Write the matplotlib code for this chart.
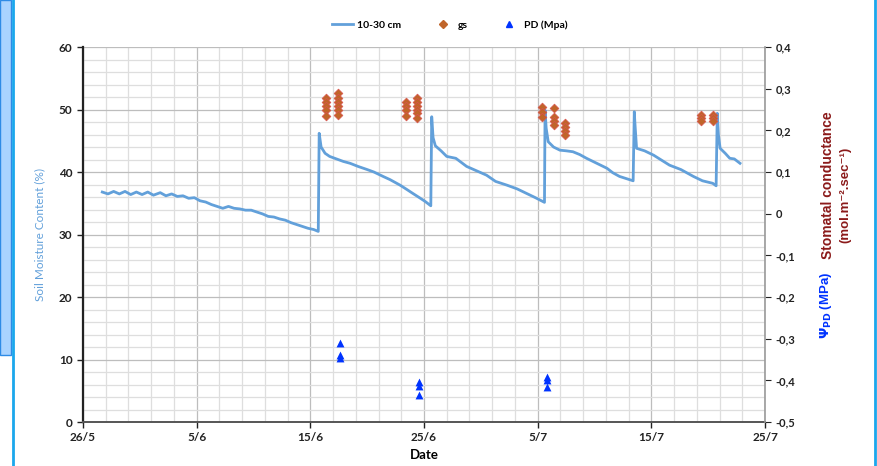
import matplotlib
matplotlib.use("Agg")
import matplotlib.pyplot as plt
import matplotlib.patches as mpatches
from matplotlib.lines import Line2D
from matplotlib.ticker import MultipleLocator, FuncFormatter

plt.rcParams["font.family"] = ["Lato", "DejaVu Sans"]

# ── Colours ───────────────────────────────────────────────
LINE_BLUE = "#62A0DA"
GS_BROWN = "#C0652A"
PD_BLUE = "#0033FF"
DARK_RED = "#8B1A1A"

# ── Data (days since 26/5) ────────────────────────────────
moist_days = [
    1.7, 2.2, 2.7, 3.2, 3.7, 4.2, 4.7, 5.2, 5.7, 6.2, 6.8, 7.3, 7.8, 8.3, 8.8,
    9.3, 9.8, 10.3, 10.8, 11.3, 11.8, 12.3, 12.8, 13.3, 13.8, 14.3, 14.8, 15.3,
    15.8, 16.3, 16.8, 17.3, 17.8, 18.3, 18.8, 19.3, 19.8, 20.3, 20.7,
    20.78, 20.95, 21.3, 21.7, 22.3, 22.9, 23.5, 24.2, 25.0, 25.6, 26.4, 27.0,
    27.9, 28.5, 29.0, 29.6, 30.1, 30.6,
    30.68, 30.8, 31.0, 31.5, 32.0, 32.8, 33.75, 34.5, 35.5, 36.3, 37.3, 38.2,
    39.0, 39.8, 40.6,
    40.65, 40.75, 40.93, 41.4, 41.96, 42.5, 43.1, 43.7, 44.3, 45.2, 46.1, 46.6,
    47.2, 48.4,
    48.5, 48.55, 48.7, 49.4, 50.2, 50.9, 51.6, 52.6, 53.7, 54.5, 55.4, 55.7,
    55.8, 55.9, 56.05, 56.5, 56.9, 57.3, 57.8,
]
moist_vals = [
    36.8, 36.5, 36.9, 36.5, 36.9, 36.4, 36.8, 36.4, 36.8, 36.3, 36.7, 36.2, 36.5,
    36.1, 36.2, 35.8, 35.9, 35.4, 35.2, 34.8, 34.5, 34.2, 34.5, 34.2, 34.1, 33.9,
    33.9, 33.6, 33.3, 32.9, 32.8, 32.5, 32.3, 31.9, 31.6, 31.3, 31.0, 30.8, 30.5,
    46.2, 44.0, 43.0, 42.5, 42.1, 41.7, 41.4, 40.9, 40.4, 40.0, 39.3, 38.8,
    37.9, 37.2, 36.6, 35.9, 35.3, 34.6,
    48.85, 45.5, 44.2, 43.4, 42.5, 42.2, 40.9, 40.3, 39.5, 38.5, 37.9, 37.3,
    36.6, 35.9, 35.15,
    49.9, 47.0, 44.85, 44.0, 43.5, 43.4, 43.25, 42.8, 42.2, 41.4, 40.6, 39.9,
    39.3, 38.6,
    49.65, 48.0, 43.8, 43.4, 42.7, 41.9, 41.1, 40.4, 39.3, 38.6, 38.2, 37.8,
    49.4, 46.0, 43.8, 43.0, 42.2, 42.1, 41.4,
]

gs_days = [21.4] * 5 + [22.4] * 6 + [28.4] * 4 + [29.36] * 6 + \
          [40.4] * 3 + [41.4] * 4 + [42.4] * 4 + [54.4] * 3 + [55.4] * 3
gs_vals = [
    0.277, 0.267, 0.258, 0.250, 0.235,
    0.289, 0.278, 0.269, 0.259, 0.250, 0.237,
    0.269, 0.259, 0.250, 0.235,
    0.278, 0.269, 0.259, 0.250, 0.241, 0.229,
    0.255, 0.245, 0.233,
    0.253, 0.233, 0.222, 0.213,
    0.217, 0.207, 0.198, 0.189,
    0.236, 0.229, 0.222,
    0.236, 0.229, 0.222,
]

pd_days = [22.6, 22.6, 22.6, 29.6, 29.6, 29.6, 40.8, 40.8, 40.8]
pd_vals = [-0.311, -0.339, -0.347, -0.403, -0.414, -0.435, -0.391, -0.400, -0.416]

xtick_days = [0, 10, 20, 30, 40, 50, 60]
xtick_labels = ["26/5", "5/6", "15/6", "25/6", "5/7", "15/7", "25/7"]

# ── Figure ────────────────────────────────────────────────
fig = plt.figure(figsize=(8.77, 4.66), dpi=100, facecolor="white")
ax = fig.add_axes([0.0946, 0.0944, 0.7777, 0.8046])

# frame decoration from the source screenshot
fig.patches.append(mpatches.Rectangle((0, 1 - 355 / 466), 11 / 877, 355 / 466,
                                      transform=fig.transFigure, facecolor="#A9D3FF",
                                      edgecolor="#2E8BE6", linewidth=1))
fig.add_artist(Line2D([13 / 877, 13 / 877], [0, 1], transform=fig.transFigure,
                      color="#1AA7EC", linewidth=2))
fig.add_artist(Line2D([875 / 877, 875 / 877], [0, 1], transform=fig.transFigure,
                      color="#1AA7EC", linewidth=2))

ax.plot(moist_days, moist_vals, color=LINE_BLUE, linewidth=2, zorder=3,
        label="10-30 cm")

ax.set_xlim(0, 60)
ax.set_ylim(0, 60)
ax.set_xticks(xtick_days)
ax.set_xticklabels(xtick_labels)
ax.xaxis.set_minor_locator(MultipleLocator(2))
ax.yaxis.set_major_locator(MultipleLocator(10))
ax.yaxis.set_minor_locator(MultipleLocator(2))
ax.grid(which="major", color="#BDBDBD", linewidth=0.9, zorder=0)
ax.grid(which="minor", color="#DEDEDE", linewidth=0.9, zorder=0)
ax.set_axisbelow(True)

ax.spines["top"].set_visible(False)
ax.spines["right"].set_visible(False)
ax.spines["left"].set_color("#222222")
ax.spines["left"].set_linewidth(1.6)
ax.spines["bottom"].set_color("#555555")
ax.spines["bottom"].set_linewidth(1.4)
ax.tick_params(axis="both", which="major", labelsize=8.5, length=4, width=1,
               colors="#222222")
ax.tick_params(axis="both", which="minor", length=0)
for lab in ax.get_xticklabels() + ax.get_yticklabels():
    lab.set_fontweight("bold")

ax.set_ylabel("Soil Moisture Content (%)", color=LINE_BLUE, fontsize=8.5, labelpad=10)
ax.set_xlabel("Date", fontsize=9.5, fontweight="bold", labelpad=4)

# ── Right axis: gs and PD ─────────────────────────────────
ax2 = ax.twinx()
ax2.set_ylim(-0.5, 0.4)
ax2.yaxis.set_major_locator(MultipleLocator(0.1))
ax2.yaxis.set_major_formatter(FuncFormatter(
    lambda v, p: "0" if abs(v) < 1e-9 else f"{v:.1f}".replace(".", ",")))
for s in ("top", "left", "bottom"):
    ax2.spines[s].set_visible(False)
ax2.spines["right"].set_color("#999999")
ax2.spines["right"].set_linewidth(1.2)
ax2.tick_params(axis="y", labelsize=8, length=4, colors="#222222")
for lab in ax2.get_yticklabels():
    lab.set_fontweight("bold")

ax2.scatter(gs_days, gs_vals, marker="D", s=20, color=GS_BROWN,
            edgecolors="#D9534F", linewidths=0.5, zorder=4, label="gs")
ax2.scatter(pd_days, pd_vals, marker="^", s=32, color=PD_BLUE,
            linewidths=0, zorder=4, label="PD (Mpa)")

side_font = ["Liberation Sans", "DejaVu Sans"]
fig.text(828 / 877, 1 - 185 / 466, "Stomatal conductance", rotation=90,
         ha="center", va="center", color=DARK_RED, fontsize=10, fontweight="bold",
         family=side_font)
fig.text(845 / 877, 1 - 195 / 466, "(mol.m\u207b\u00b2.sec\u207b\u00b9)",
         rotation=90, ha="center", va="center", color=DARK_RED, fontsize=9.5,
         fontweight="bold", family=side_font)
fig.text(826 / 877, 1 - 305 / 466, r"$\mathbf{\Psi_{PD}}$ (MPa)", rotation=90,
         ha="center", va="center", color=PD_BLUE, fontsize=9.5, fontweight="bold",
         family=side_font)

# ── Legend ────────────────────────────────────────────────
handles = [
    Line2D([], [], color=LINE_BLUE, linewidth=2),
    Line2D([], [], marker="D", linestyle="none", color=GS_BROWN, markersize=4),
    Line2D([], [], marker="^", linestyle="none", color=PD_BLUE, markersize=5),
]
leg = fig.legend(handles, ["10-30 cm", "gs", "PD (Mpa)"], loc="center",
                 bbox_to_anchor=(450 / 877, 1 - 25 / 466), ncol=3, frameon=False,
                 fontsize=7.5, handlelength=2, columnspacing=3, handletextpad=0.4)
for t in leg.get_texts():
    t.set_fontweight("bold")

fig.savefig("out.png", dpi=100, facecolor=fig.get_facecolor())
